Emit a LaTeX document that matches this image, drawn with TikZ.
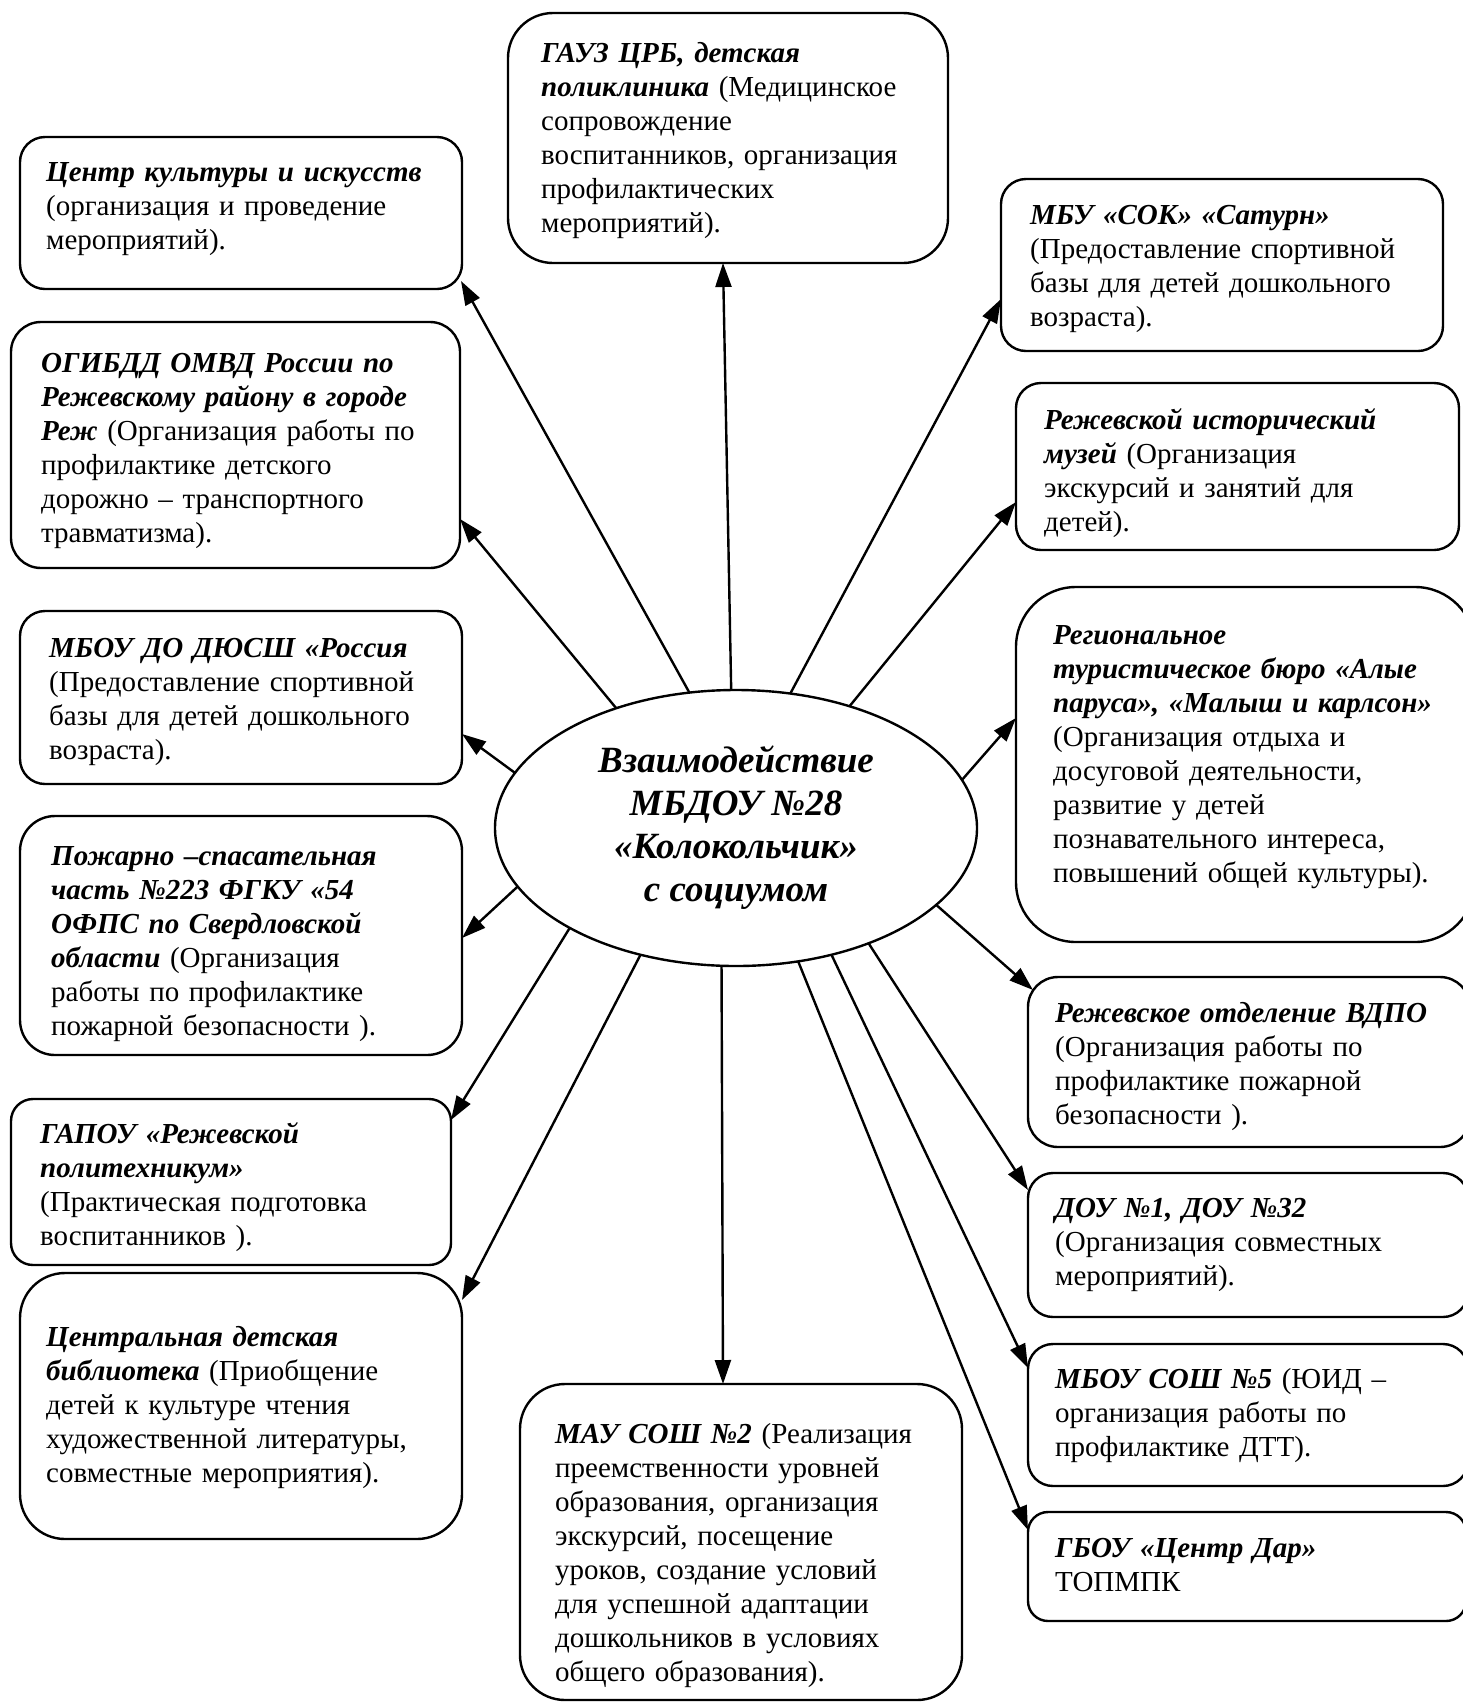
\documentclass[tikz,border=0pt]{standalone}
\usepackage{fontspec}
\setmainfont{Liberation Serif}
\usetikzlibrary{arrows.meta,shapes.geometric}
\newcommand{\bix}[1]{\textbf{\textit{#1}}}
\begin{document}
\begin{tikzpicture}[x=1pt,y=-1pt,
  boxr/.style={draw, line width=2.4pt, inner sep=0pt, outer sep=0pt, anchor=north west},
  txt/.style={anchor=base west, inner sep=0pt, align=left, text width=480pt, font=\fontsize{29}{34}\selectfont},
  conn/.style={line width=2.4pt, -{Triangle[length=24pt,width=16pt]}},
]
\useasboundingbox (0,0) rectangle (1463,1706);
\fill[white] (0,0) rectangle (1463,1706);

% boxes
\node[boxr, rounded corners=45pt, minimum width=440pt, minimum height=250pt] (b1) at (508,13) {};
\node[boxr, rounded corners=25pt, minimum width=442pt, minimum height=152pt] (b2) at (20,137) {};
\node[boxr, rounded corners=30pt, minimum width=449pt, minimum height=246pt] (b3) at (11,322) {};
\node[boxr, rounded corners=25pt, minimum width=442pt, minimum height=173pt] (b4) at (20,611) {};
\node[boxr, rounded corners=35pt, minimum width=442pt, minimum height=239pt] (b5) at (20,816) {};
\node[boxr, rounded corners=22pt, minimum width=440pt, minimum height=166pt] (b6) at (11,1099) {};
\node[boxr, rounded corners=45pt, minimum width=442pt, minimum height=266pt] (b7) at (20,1273) {};
\node[boxr, rounded corners=45pt, minimum width=442pt, minimum height=316pt] (b8) at (520,1384) {};
\node[boxr, rounded corners=25pt, minimum width=442pt, minimum height=172pt] (b9) at (1001,179) {};
\node[boxr, rounded corners=25pt, minimum width=443pt, minimum height=167pt] (b10) at (1016,383) {};
\node[boxr, rounded corners=60pt, minimum width=459pt, minimum height=355pt] (b11) at (1016,587) {};
\node[boxr, rounded corners=30pt, minimum width=442pt, minimum height=170pt] (b12) at (1028,977) {};
\node[boxr, rounded corners=25pt, minimum width=440pt, minimum height=144pt] (b13) at (1028,1173) {};
\node[boxr, rounded corners=25pt, minimum width=440pt, minimum height=142pt] (b14) at (1028,1344) {};
\node[boxr, rounded corners=20pt, minimum width=438pt, minimum height=109pt] (b15) at (1028,1512) {};

% texts
\node[txt] (x1) at (541,62) {\bix{ГАУЗ ЦРБ, детская}\\\bix{поликлиника} (Медицинское\\сопровождение\\воспитанников, организация\\профилактических\\мероприятий).};
\node[txt] (x2) at (46,181) {\bix{Центр культуры и искусств}\\(организация и проведение\\мероприятий).};
\node[txt] (x3) at (41,372) {\bix{ОГИБДД ОМВД России по}\\\bix{Режевскому району в городе}\\\bix{Реж} (Организация работы по\\профилактике детского\\дорожно – транспортного\\травматизма).};
\node[txt] (x4) at (49,657) {\bix{МБОУ ДО ДЮСШ «Россия}\\(Предоставление спортивной\\базы для детей дошкольного\\возраста).};
\node[txt] (x5) at (51,865) {\bix{Пожарно –спасательная}\\\bix{часть №223 ФГКУ «54}\\\bix{ОФПС по Свердловской}\\\bix{области} (Организация\\работы по профилактике\\пожарной безопасности ).};
\node[txt] (x6) at (40,1143) {\bix{ГАПОУ «Режевской}\\\bix{политехникум»}\\(Практическая подготовка\\воспитанников ).};
\node[txt] (x7) at (46,1346) {\bix{Центральная детская}\\\bix{библиотека} (Приобщение\\детей к культуре чтения\\художественной литературы,\\совместные мероприятия).};
\node[txt] (x8) at (555,1443) {\bix{МАУ СОШ №2} (Реализация\\преемственности уровней\\образования, организация\\экскурсий, посещение\\уроков, создание условий\\для успешной адаптации\\дошкольников в условиях\\общего образования).};
\node[txt] (x9) at (1030,224) {\bix{МБУ «СОК» «Сатурн»}\\(Предоставление спортивной\\базы для детей дошкольного\\возраста).};
\node[txt] (x10) at (1044,429) {\bix{Режевской исторический}\\\bix{музей} (Организация\\экскурсий и занятий для\\детей).};
\node[txt] (x11) at (1053,644) {\bix{Региональное}\\\bix{туристическое бюро «Алые}\\\bix{паруса», «Малыш и карлсон»}\\(Организация отдыха и\\досуговой деятельности,\\развитие у детей\\познавательного интереса,\\повышений общей культуры).};
\node[txt] (x12) at (1055,1022) {\bix{Режевское отделение ВДПО}\\(Организация работы по\\профилактике пожарной\\безопасности ).};
\node[txt] (x13) at (1055,1217) {\bix{ДОУ №1, ДОУ №32}\\(Организация совместных\\мероприятий).};
\node[txt] (x14) at (1055,1388) {\bix{МБОУ СОШ №5} (ЮИД –\\организация работы по\\профилактике ДТТ).};
\node[txt] (x15) at (1055,1557) {\bix{ГБОУ «Центр Дар»}\\ТОПМПК};

% centre
\node[draw, line width=2.4pt, ellipse, minimum width=482pt, minimum height=276pt, inner sep=0pt, outer sep=0pt, align=center, font=\fontsize{37}{43}\selectfont\bfseries\itshape] (ell) at (736,828) {Взаимодействие\\МБДОУ №28\\«Колокольчик»\\с социумом};

% arrow tips
\coordinate (t1) at (723,263);
\coordinate (t2) at (461,281);
\coordinate (t3) at (460,519);
\coordinate (t4) at (1001,299);
\coordinate (t5) at (1016,502);
\coordinate (t6) at (1016,718);
\coordinate (t7) at (462,734);
\coordinate (t8) at (462,938);
\coordinate (t9) at (451,1120);
\coordinate (t10) at (462,1300);
\coordinate (t11) at (723,1384);
\coordinate (t12) at (1028,1530);
\coordinate (t13) at (1028,1368);
\coordinate (t14) at (1028,1190);
\coordinate (t15) at (1033,990);

\draw[conn] (ell.92.1) -- (t1);
\draw[conn] (ell.109.7) -- (t2);
\draw[conn] (ell.135.7) -- (t3);
\draw[conn] (ell.68.4) -- (t4);
\draw[conn] (ell.47.2) -- (t5);
\draw[conn] (ell.12.4) -- (t6);
\draw[conn] (ell.166) -- (t7);
\draw[conn] (ell.195) -- (t8);
\draw[conn] (ell.211.5) -- (t9);
\draw[conn] (ell.233.7) -- (t10);
\draw[conn] (ell.264.6) -- (t11);
\draw[conn] (ell.295.3) -- (t12);
\draw[conn] (ell.307.4) -- (t13);
\draw[conn] (ell.319.3) -- (t14);
\draw[conn] (ell.339.7) -- (t15);
\end{tikzpicture}
\end{document}
